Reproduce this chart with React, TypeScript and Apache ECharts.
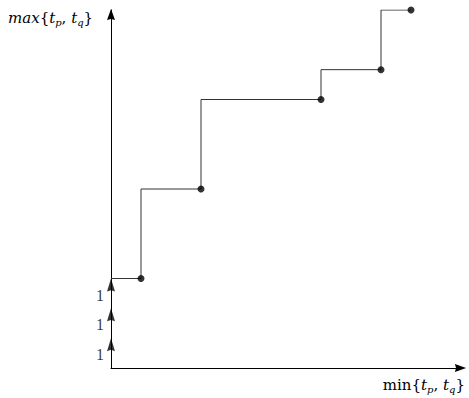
import React, { useEffect, useRef } from "react";
import * as echarts from "echarts";

// step breakpoints on the min axis and the levels on the max axis
const xBreaks = [0, 1, 3, 7, 9, 10];
const levels = [3, 6, 9, 10, 12];
// unit arrows on the vertical axis
const unitTicks = [1, 2, 3];
const unitLabels = ["1", "1", "1"];

const xMax = 11.7;
const yMax = 12;

const ARROW = "path://M5,0 L10,14 L5,12.6 L0,14 Z";
const FONT = "Liberation Serif";
const TFONT = "DejaVu Serif";

const richStyles = {
  i: { fontFamily: TFONT, fontStyle: "italic", fontSize: 15, lineHeight: 20, verticalAlign: "middle", fill: "#000" },
  n: { fontFamily: TFONT, fontStyle: "normal", fontSize: 15, lineHeight: 20, verticalAlign: "middle", fill: "#000" },
  s: { fontFamily: TFONT, fontStyle: "italic", fontSize: 10, lineHeight: 10, verticalAlign: "bottom", fill: "#000" },
};

export default function App() {
  const ref = useRef<HTMLDivElement>(null);
  useEffect(() => {
    if (!ref.current) return;
    const chart = echarts.init(ref.current, undefined, { renderer: "svg" });

    const stepData = xBreaks.map((x, i) => [x, levels[Math.min(i, levels.length - 1)]]);
    const dots = levels.map((y, i) => [xBreaks[i + 1], y]);
    const units = unitTicks.map((y, i) => ({ value: [0, y], label: unitLabels[i] }));

    chart.setOption({
      animation: false,
      grid: { left: 111, right: 7, top: 10, bottom: 30, containLabel: false },
      xAxis: {
        type: "value",
        min: 0,
        max: xMax,
        axisLine: {
          show: true,
          lineStyle: { color: "#000", width: 1 },
          symbol: ["none", ARROW],
          symbolSize: [8, 13],
          symbolOffset: [0, -1.5],
        },
        axisTick: { show: false },
        axisLabel: { show: false },
        splitLine: { show: false },
      },
      yAxis: {
        type: "value",
        min: 0,
        max: yMax,
        axisLine: {
          show: true,
          lineStyle: { color: "#000", width: 1 },
          symbol: ["none", ARROW],
          symbolSize: [8, 14],
          symbolOffset: [0, -4.5],
        },
        axisTick: { show: false },
        axisLabel: { show: false },
        splitLine: { show: false },
      },
      series: [
        {
          type: "line",
          step: "end",
          data: stepData,
          showSymbol: false,
          symbol: "none",
          lineStyle: { color: "#333", width: 1 },
          z: 2,
        },
        {
          type: "scatter",
          data: dots,
          symbol: "circle",
          symbolSize: 7,
          itemStyle: { color: "#000" },
          z: 3,
        },
        {
          type: "scatter",
          data: units.map((u) => u.value),
          symbol: ARROW,
          symbolSize: [8, 13],
          symbolOffset: [0, 6.5],
          itemStyle: { color: "#000" },
          label: {
            show: true,
            position: "left",
            distance: 3,
            offset: [0, 10],
            formatter: (p: any) => units[p.dataIndex].label,
            fontFamily: FONT,
            fontSize: 16,
            color: "#000",
          },
          z: 4,
        },
      ],
      graphic: [
        {
          type: "text",
          left: 8,
          top: 10,
          style: {
            text: "{i|max}{n|{}{i|t}{s|p}{n|, }{i|t}{s|q}{n|\u007d}",
            fontFamily: TFONT,
            fontSize: 15,
            fill: "#000",
            rich: richStyles,
          },
        },
        {
          type: "text",
          right: 4,
          top: 377,
          style: {
            text: "{n|min{}{i|t}{s|p}{n|, }{i|t}{s|q}{n|\u007d}",
            fontFamily: TFONT,
            fontSize: 15,
            fill: "#000",
            rich: richStyles,
          },
        },
      ],
    });
    return () => chart.dispose();
  }, []);
  return (
    <div
      ref={ref}
      style={{ position: "fixed", left: 0, top: 0, width: 469, height: 398, background: "#fff" }}
    />
  );
}
